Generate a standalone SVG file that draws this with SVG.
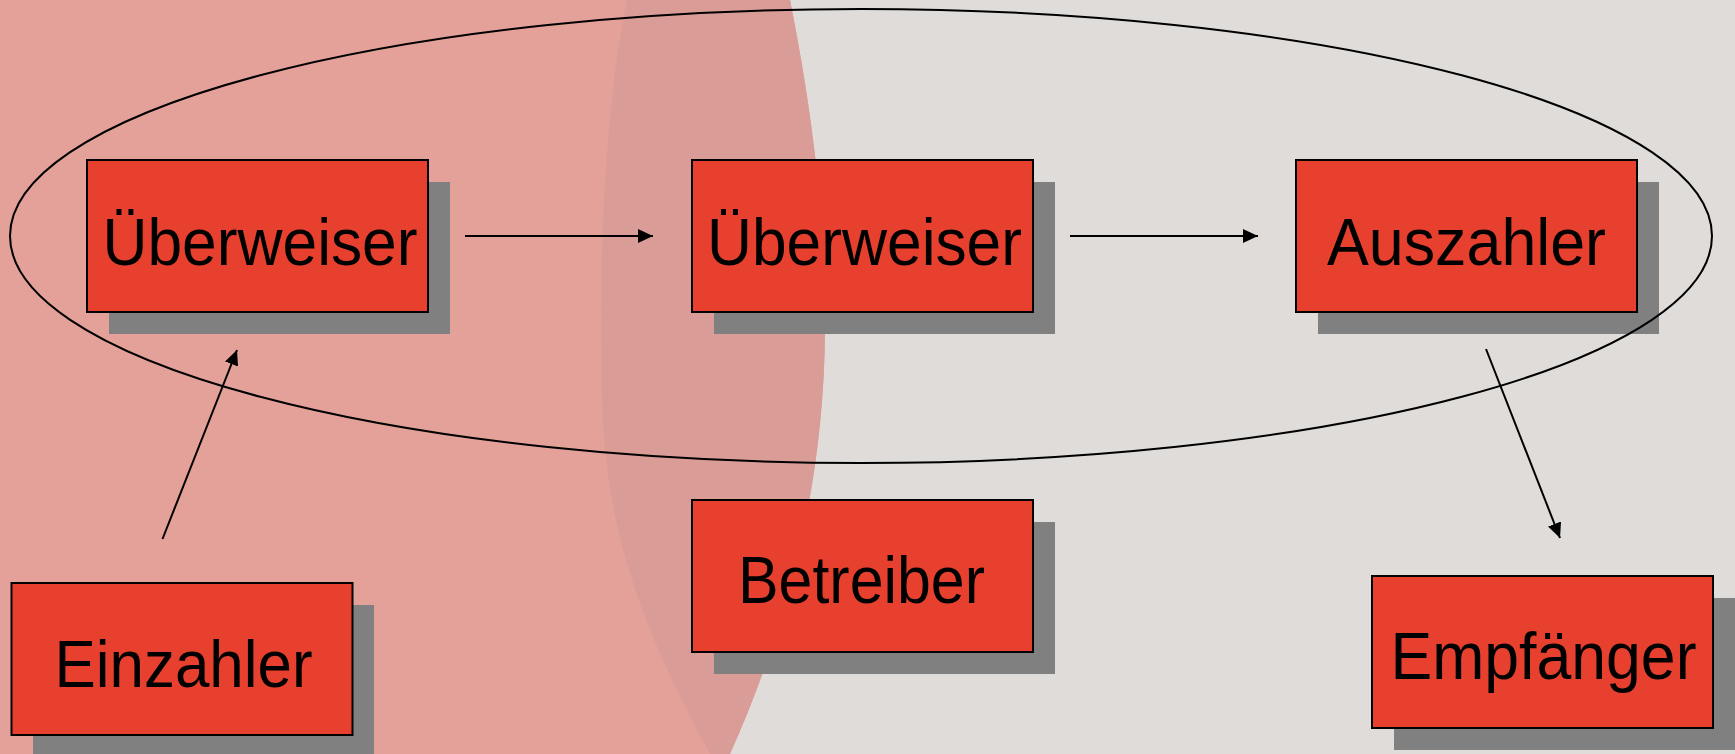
<svg xmlns="http://www.w3.org/2000/svg" width="1735" height="754" viewBox="0 0 1735 754">
<style>
.box{fill:#E8402E;stroke:#000;stroke-width:2}
.shadow{fill:#808080}
.lbl{font-family:"Liberation Sans",Arial,sans-serif;font-size:67px;fill:#000}
.conn{stroke:#000;stroke-width:2;fill:none}
</style>
<defs>
<marker id="ah" markerUnits="userSpaceOnUse" markerWidth="16" markerHeight="14" refX="15" refY="7" orient="auto">
<path d="M0,0 L15,7 L0,14 Z" fill="#000"/>
</marker>
</defs>
<rect x="0" y="0" width="1735" height="754" fill="#DFDCD9"/>
<path d="M0,0 H790 C812,110 826,220 825,330 C824,480 790,620 730,754 H0 Z" fill="#E4A19A"/>
<path d="M627,0 H790 C812,110 826,220 825,330 C824,480 790,620 730,754 H710 C660,660 610,560 603,420 C598,300 602,120 627,0 Z" fill="#D99C97"/>
<g id="ueberweiser1">
<rect class="shadow" x="109" y="182" width="341" height="152"/>
<rect class="box" x="87" y="160" width="341" height="152"/>
<text class="lbl" x="102.5" y="264.5" textLength="315" lengthAdjust="spacingAndGlyphs">Überweiser</text>
</g>
<g id="ueberweiser2">
<rect class="shadow" x="714" y="182" width="341" height="152"/>
<rect class="box" x="692" y="160" width="341" height="152"/>
<text class="lbl" x="707" y="264.5" textLength="315" lengthAdjust="spacingAndGlyphs">Überweiser</text>
</g>
<g id="auszahler">
<rect class="shadow" x="1318" y="182" width="341" height="152"/>
<rect class="box" x="1296" y="160" width="341" height="152"/>
<text class="lbl" x="1327" y="264.5" textLength="279" lengthAdjust="spacingAndGlyphs">Auszahler</text>
</g>
<g id="einzahler">
<rect class="shadow" x="33" y="605" width="341" height="152"/>
<rect class="box" x="11.5" y="583" width="341" height="152"/>
<text class="lbl" x="54.5" y="686.5" textLength="258" lengthAdjust="spacingAndGlyphs">Einzahler</text>
</g>
<g id="betreiber">
<rect class="shadow" x="714" y="522" width="341" height="152"/>
<rect class="box" x="692" y="500" width="341" height="152"/>
<text class="lbl" x="738" y="603" textLength="247" lengthAdjust="spacingAndGlyphs">Betreiber</text>
</g>
<g id="empfaenger">
<rect class="shadow" x="1394" y="598" width="341" height="152"/>
<rect class="box" x="1372" y="576" width="341" height="152"/>
<text class="lbl" x="1390.5" y="679" textLength="306" lengthAdjust="spacingAndGlyphs">Empfänger</text>
</g>
<g id="connectors">
<ellipse cx="861" cy="236" rx="851" ry="227" fill="none" stroke="#000" stroke-width="2"/>
<line class="conn" x1="465" y1="236" x2="653" y2="236" marker-end="url(#ah)"/>
<line class="conn" x1="1070" y1="236" x2="1258" y2="236" marker-end="url(#ah)"/>
<line class="conn" x1="162.5" y1="539" x2="237" y2="350" marker-end="url(#ah)"/>
<line class="conn" x1="1486" y1="349" x2="1560" y2="538" marker-end="url(#ah)"/>
</g>
</svg>
